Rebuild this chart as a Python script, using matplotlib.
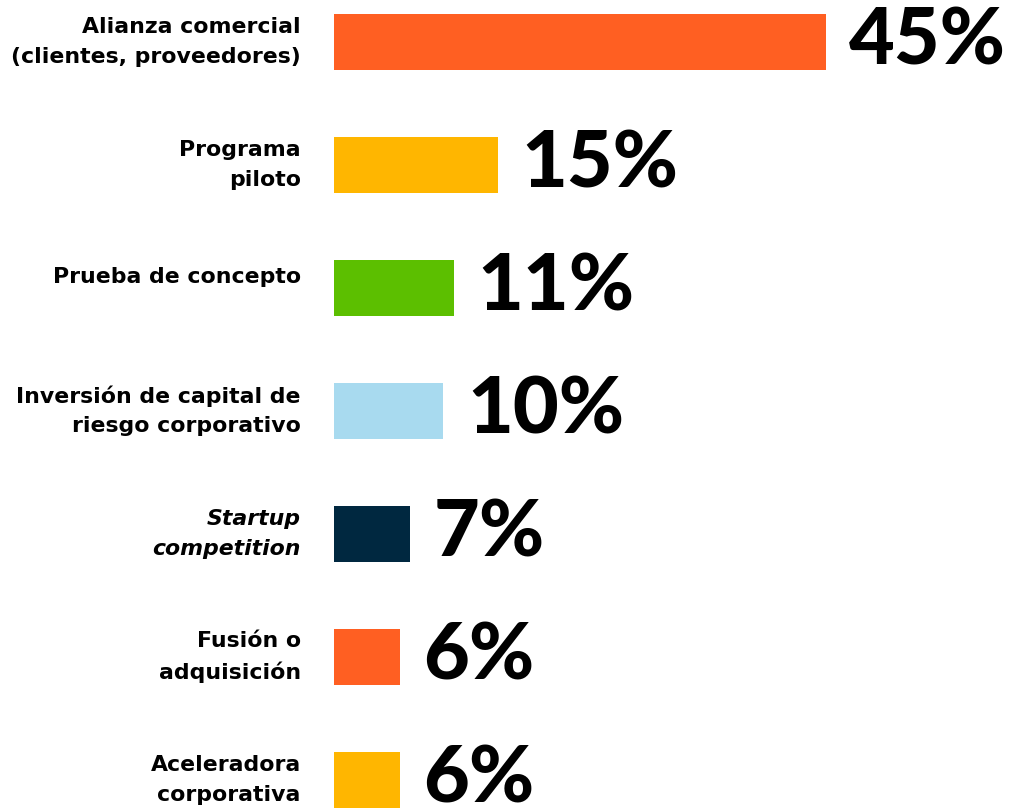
import matplotlib.pyplot as plt

# Datos
categorias = [
    'Alianza comercial\n(clientes, proveedores)',
    'Programa\npiloto',
    'Prueba de concepto',
    'Inversión de capital de\nriesgo corporativo',
    'Startup\ncompetition',
    'Fusión o\nadquisición',
    'Aceleradora\ncorporativa',
]
valores = [45, 15, 11, 10, 7, 6, 6]
colores = ['#FF5F22', '#FFB600', '#5CBF00', '#A8DAEF', '#002840', '#FF5F22', '#FFB600']
cursiva = [False, False, False, False, True, False, False]

fig = plt.figure(figsize=(10.2, 8.08), dpi=100)
ax = fig.add_axes([334 / 1020, 0, 686 / 1020, 1])

pos = list(range(len(valores)))
ax.barh(pos, valores, height=0.455, color=colores)

ax.set_xlim(0, 62.8)
ax.set_ylim(6.228, -0.341)
ax.set_xticks([])
ax.set_yticks([])
for s in ax.spines.values():
    s.set_visible(False)

# Etiquetas de categorías a la izquierda
for p, c, it in zip(pos, categorias, cursiva):
    dy = 0 if '\n' in c else 8
    ax.annotate(c, xy=(0, p), xytext=(-24, dy), textcoords='offset points',
                ha='right', va='center', multialignment='right',
                fontsize=15.8, fontweight='bold', family='DejaVu Sans',
                fontstyle='italic' if it else 'normal', linespacing=1.6,
                annotation_clip=False)

# Valores al final de cada barra
for p, v in zip(pos, valores):
    ax.annotate(f'{v}%', xy=(v, p), xytext=(17, 0), textcoords='offset points',
                ha='left', va='center', fontsize=57, fontweight='black',
                family='Lato', color='black', annotation_clip=False)

fig.savefig('out.png', dpi=100)
